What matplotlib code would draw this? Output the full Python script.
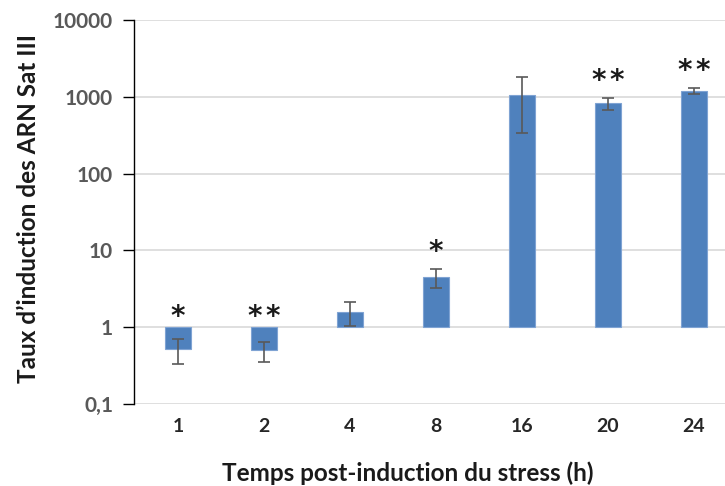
import matplotlib.pyplot as plt
import numpy as np

# data
hours = ["1", "2", "4", "8", "16", "20", "24"]
induction = [0.52, 0.50, 1.60, 4.5, 1070, 820, 1190]
errors = [0.19, 0.15, 0.56, 1.3, 730, 150, 115]
stars = ["*", "**", "", "*", "", "**", "**"]

plt.rcParams["font.family"] = ["Lato", "DejaVu Sans"]

fig = plt.figure(figsize=(7.25, 4.86), dpi=100)
ax = fig.add_axes([0.1848, 0.1687, 0.8152, 0.7901])

x = np.arange(len(hours))
heights = [v - 1 for v in induction]
ax.bar(x, heights, bottom=1, width=0.30, color="#4F81BD",
       edgecolor="#7FA3D3", linewidth=0.8, zorder=2)
ax.errorbar(x, induction, yerr=errors, fmt="none", ecolor="#595959",
            elinewidth=1.2, capsize=4, capthick=1.2, zorder=3)

# significance stars, each glyph placed separately to get the wide spacing
for xi, v, e, s in zip(x, induction, errors, stars):
    top = max(v + e, 1)
    for k, ch in enumerate(s):
        dx = (k - (len(s) - 1) / 2) * 13
        ax.annotate(ch, (xi, top), xytext=(dx, 7 if v < 1 else 12),
                    textcoords="offset points", ha="center", va="center",
                    fontsize=20, fontweight="bold", color="#1a1a1a",
                    family=["DejaVu Sans"])

ax.set_yscale("log")
ax.set_ylim(0.1, 10000)
ax.set_xlim(-0.512, 6.36)
ax.set_yticks([0.1, 1, 10, 100, 1000, 10000],
              ["0,1", "1", "10", "100", "1000", "10000"])
ax.minorticks_off()
ax.set_xticks(x, hours)
ax.grid(axis="y", color="#D9D9D9", linewidth=1.2, zorder=0)
for side in ["top", "right", "bottom"]:
    ax.spines[side].set_visible(False)
ax.spines["left"].set_color("black")
ax.spines["left"].set_linewidth(1.0)
ax.tick_params(axis="y", length=8, width=1, color="black", pad=7,
               labelsize=15, labelcolor="#595959")
ax.tick_params(axis="x", length=0, pad=10, labelsize=14, labelcolor="#262626")
for lab in ax.get_xticklabels() + ax.get_yticklabels():
    lab.set_fontweight("bold")

ax.set_xlabel("Temps post-induction du stress (h)", fontsize=17.5,
              fontweight="bold", color="#1a1a1a")
ax.xaxis.set_label_coords(0.464, -0.15)
ax.set_ylabel("Taux d’induction des ARN Sat III", fontsize=17.5,
              fontweight="bold", color="#1a1a1a", va="center")
ax.yaxis.set_label_coords(-0.179, 0.508)

fig.savefig("out.png", dpi=100)
